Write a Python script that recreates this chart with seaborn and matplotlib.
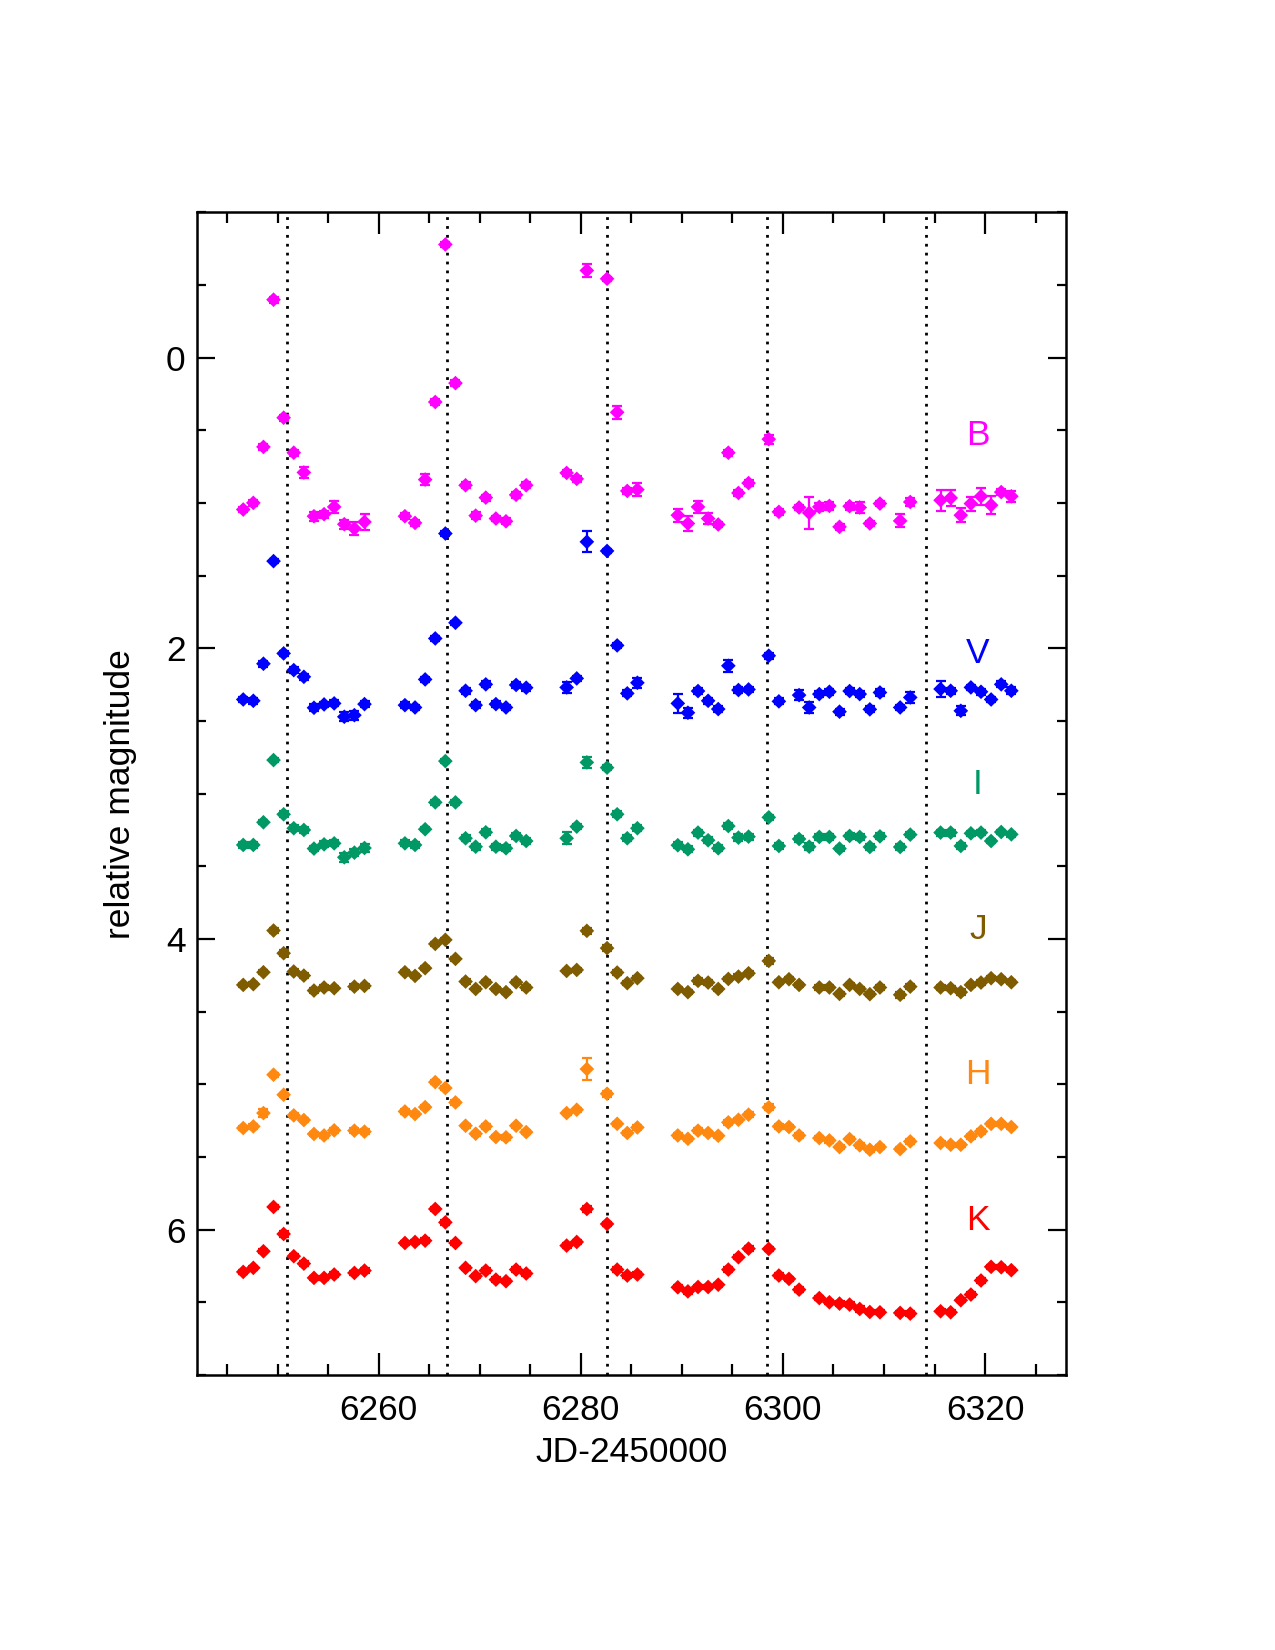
import numpy as np
import pandas as pd
import matplotlib
matplotlib.use("Agg")
import matplotlib.pyplot as plt
from matplotlib.ticker import MultipleLocator
import seaborn as sns

# ── DATA ───────────────────────────────────────────────────────
# epochs (JD-2450000) for the optical bands B, V, I
JD_OPT = [6246.6, 6247.6, 6248.6, 6249.6, 6250.6, 6251.6, 6252.6, 6253.6, 6254.6, 6255.6, 6256.6, 6257.6, 6258.6,
          6262.6, 6263.6, 6264.6, 6265.6, 6266.6, 6267.6, 6268.6, 6269.6, 6270.6, 6271.6, 6272.6, 6273.6, 6274.6,
          6278.6, 6279.6, 6280.6, 6282.6, 6283.6, 6284.6, 6285.6,
          6289.6, 6290.6, 6291.6, 6292.6, 6293.6, 6294.6, 6295.6, 6296.6,
          6298.6, 6299.6, 6301.6, 6302.6, 6303.6, 6304.6, 6305.6, 6306.6, 6307.6, 6308.6, 6309.6, 6311.6, 6312.6,
          6315.6, 6316.6, 6317.6, 6318.6, 6319.6, 6320.6, 6321.6, 6322.6]
# epochs for the near-infrared bands J, H, K
JD_NIR = [6246.6, 6247.6, 6248.6, 6249.6, 6250.6, 6251.6, 6252.6, 6253.6, 6254.6, 6255.6, 6257.6, 6258.6,
          6262.6, 6263.6, 6264.6, 6265.6, 6266.6, 6267.6, 6268.6, 6269.6, 6270.6, 6271.6, 6272.6, 6273.6, 6274.6,
          6278.6, 6279.6, 6280.6, 6282.6, 6283.6, 6284.6, 6285.6,
          6289.6, 6290.6, 6291.6, 6292.6, 6293.6, 6294.6, 6295.6, 6296.6,
          6298.6, 6299.6, 6300.6, 6301.6, 6303.6, 6304.6, 6305.6, 6306.6, 6307.6, 6308.6, 6309.6, 6311.6, 6312.6,
          6315.6, 6316.6, 6317.6, 6318.6, 6319.6, 6320.6, 6321.6, 6322.6]

B_MAG = [1.045, 0.999, 0.614, -0.399, 0.413, 0.654, 0.790, 1.091, 1.077, 1.027, 1.146, 1.176, 1.130,
         1.091, 1.137, 0.839, 0.305, -0.779, 0.175, 0.878, 1.087, 0.963, 1.107, 1.126, 0.944, 0.878,
         0.793, 0.834, -0.600, -0.543, 0.376, 0.917, 0.908,
         1.084, 1.141, 1.027, 1.107, 1.148, 0.654, 0.931, 0.863,
         0.561, 1.061, 1.031, 1.068, 1.027, 1.020, 1.164, 1.022, 1.031, 1.141, 1.004, 1.123, 0.993,
         0.981, 0.965, 1.084, 1.004, 0.954, 1.015, 0.925, 0.954]
B_ERR = [0.02, 0.02, 0.02, 0.02, 0.02, 0.02, 0.04, 0.03, 0.025, 0.04, 0.03, 0.045, 0.057,
         0.02, 0.02, 0.04, 0.02, 0.015, 0.02, 0.02, 0.025, 0.02, 0.02, 0.02, 0.02, 0.02,
         0.02, 0.02, 0.046, 0.015, 0.043, 0.02, 0.043,
         0.046, 0.05, 0.04, 0.037, 0.02, 0.02, 0.02, 0.02,
         0.03, 0.02, 0.02, 0.11, 0.025, 0.025, 0.02, 0.025, 0.035, 0.02, 0.02, 0.045, 0.025,
         0.073, 0.057, 0.05, 0.048, 0.057, 0.06, 0.02, 0.038]

V_MAG = [2.352, 2.361, 2.106, 1.400, 2.035, 2.150, 2.196, 2.409, 2.386, 2.379, 2.471, 2.460, 2.384,
         2.391, 2.407, 2.214, 1.932, 1.210, 1.824, 2.292, 2.391, 2.248, 2.384, 2.407, 2.252, 2.271,
         2.269, 2.207, 1.267, 1.330, 1.980, 2.310, 2.237,
         2.379, 2.443, 2.294, 2.361, 2.418, 2.120, 2.287, 2.283,
         2.051, 2.365, 2.322, 2.407, 2.315, 2.299, 2.436, 2.294, 2.315, 2.420, 2.304, 2.407, 2.338,
         2.280, 2.292, 2.430, 2.269, 2.299, 2.352, 2.248, 2.292]
V_ERR = [0.02, 0.02, 0.02, 0.015, 0.02, 0.02, 0.02, 0.025, 0.02, 0.02, 0.03, 0.03, 0.02,
         0.02, 0.02, 0.02, 0.02, 0.015, 0.015, 0.02, 0.02, 0.02, 0.02, 0.02, 0.02, 0.02,
         0.04, 0.02, 0.073, 0.015, 0.02, 0.02, 0.035,
         0.065, 0.035, 0.02, 0.02, 0.02, 0.04, 0.02, 0.02,
         0.02, 0.02, 0.035, 0.04, 0.02, 0.02, 0.02, 0.02, 0.02, 0.02, 0.025, 0.02, 0.035,
         0.055, 0.02, 0.03, 0.02, 0.02, 0.02, 0.02, 0.025]

I_MAG = [3.353, 3.353, 3.197, 2.769, 3.142, 3.238, 3.250, 3.378, 3.349, 3.342, 3.438, 3.406, 3.374,
         3.342, 3.353, 3.245, 3.060, 2.776, 3.060, 3.307, 3.365, 3.266, 3.365, 3.376, 3.291, 3.326,
         3.307, 3.227, 2.785, 2.821, 3.142, 3.307, 3.238,
         3.355, 3.383, 3.268, 3.321, 3.376, 3.223, 3.303, 3.296,
         3.163, 3.360, 3.312, 3.365, 3.298, 3.298, 3.378, 3.291, 3.298, 3.367, 3.294, 3.367, 3.282,
         3.268, 3.268, 3.360, 3.273, 3.268, 3.326, 3.264, 3.280]
I_ERR = [0.02, 0.02, 0.015, 0.015, 0.02, 0.02, 0.02, 0.02, 0.02, 0.02, 0.03, 0.025, 0.025,
         0.02, 0.02, 0.015, 0.015, 0.015, 0.015, 0.02, 0.02, 0.02, 0.02, 0.02, 0.02, 0.02,
         0.04, 0.015, 0.04, 0.015, 0.02, 0.02, 0.02,
         0.02, 0.02, 0.02, 0.02, 0.02, 0.02, 0.025, 0.02,
         0.015, 0.02, 0.02, 0.025, 0.02, 0.02, 0.015, 0.02, 0.02, 0.02, 0.02, 0.02, 0.015,
         0.02, 0.02, 0.02, 0.015, 0.015, 0.015, 0.015, 0.015]

J_MAG = [4.316, 4.311, 4.229, 3.942, 4.098, 4.224, 4.252, 4.355, 4.334, 4.339, 4.328, 4.323,
         4.229, 4.254, 4.201, 4.034, 4.006, 4.137, 4.293, 4.344, 4.298, 4.344, 4.366, 4.298, 4.334,
         4.220, 4.213, 3.944, 4.063, 4.231, 4.304, 4.270,
         4.344, 4.366, 4.288, 4.300, 4.344, 4.275, 4.259, 4.236,
         4.151, 4.298, 4.277, 4.316, 4.334, 4.334, 4.378, 4.316, 4.344, 4.380, 4.334, 4.384, 4.328,
         4.334, 4.339, 4.366, 4.316, 4.300, 4.270, 4.277, 4.298]
J_ERR = [0.015, 0.015, 0.015, 0.015, 0.02, 0.015, 0.015, 0.015, 0.015, 0.015, 0.015, 0.015,
         0.015, 0.015, 0.015, 0.015, 0.015, 0.015, 0.015, 0.015, 0.015, 0.015, 0.015, 0.015, 0.015,
         0.015, 0.015, 0.02, 0.02, 0.015, 0.015, 0.015,
         0.015, 0.015, 0.02, 0.015, 0.015, 0.015, 0.015, 0.015,
         0.02, 0.015, 0.015, 0.015, 0.015, 0.015, 0.015, 0.015, 0.015, 0.015, 0.015, 0.02, 0.015,
         0.015, 0.015, 0.02, 0.015, 0.015, 0.015, 0.015, 0.015]

H_MAG = [5.301, 5.290, 5.198, 4.934, 5.072, 5.214, 5.246, 5.342, 5.352, 5.317, 5.319, 5.326,
         5.187, 5.205, 5.157, 4.985, 5.026, 5.125, 5.285, 5.340, 5.290, 5.363, 5.365, 5.285, 5.329,
         5.198, 5.175, 4.895, 5.065, 5.272, 5.335, 5.297,
         5.352, 5.375, 5.319, 5.335, 5.354, 5.262, 5.244, 5.209,
         5.159, 5.290, 5.294, 5.352, 5.370, 5.386, 5.432, 5.377, 5.420, 5.450, 5.432, 5.446, 5.393,
         5.404, 5.416, 5.416, 5.358, 5.324, 5.272, 5.272, 5.294]
H_ERR = [0.015, 0.015, 0.03, 0.015, 0.015, 0.015, 0.015, 0.015, 0.015, 0.015, 0.015, 0.015,
         0.015, 0.015, 0.015, 0.015, 0.015, 0.015, 0.015, 0.015, 0.015, 0.015, 0.015, 0.015, 0.015,
         0.015, 0.015, 0.076, 0.02, 0.015, 0.015, 0.015,
         0.015, 0.015, 0.015, 0.015, 0.015, 0.015, 0.015, 0.015,
         0.02, 0.015, 0.015, 0.015, 0.015, 0.015, 0.015, 0.015, 0.015, 0.015, 0.015, 0.015, 0.015,
         0.015, 0.015, 0.015, 0.015, 0.015, 0.015, 0.015, 0.015]

K_MAG = [6.291, 6.263, 6.149, 5.844, 6.030, 6.183, 6.234, 6.332, 6.332, 6.309, 6.298, 6.282,
         6.092, 6.085, 6.076, 5.858, 5.950, 6.092, 6.263, 6.320, 6.282, 6.344, 6.355, 6.275, 6.302,
         6.110, 6.085, 5.858, 5.961, 6.275, 6.316, 6.309,
         6.397, 6.425, 6.395, 6.395, 6.379, 6.275, 6.190, 6.131,
         6.133, 6.316, 6.339, 6.413, 6.471, 6.500, 6.509, 6.516, 6.546, 6.567, 6.569, 6.573, 6.578,
         6.562, 6.569, 6.486, 6.447, 6.350, 6.256, 6.259, 6.279]
K_ERR = [0.015, 0.015, 0.015, 0.015, 0.02, 0.015, 0.015, 0.015, 0.015, 0.015, 0.015, 0.015,
         0.015, 0.015, 0.015, 0.015, 0.015, 0.015, 0.015, 0.015, 0.015, 0.015, 0.015, 0.015, 0.015,
         0.015, 0.015, 0.02, 0.015, 0.015, 0.015, 0.015,
         0.015, 0.015, 0.015, 0.015, 0.015, 0.015, 0.015, 0.015,
         0.015, 0.015, 0.015, 0.015, 0.015, 0.015, 0.015, 0.015, 0.02, 0.015, 0.015, 0.015, 0.015,
         0.015, 0.015, 0.015, 0.015, 0.015, 0.015, 0.015, 0.015]

BANDS = ["B", "V", "I", "J", "H", "K"]
COLORS = ["#FF00FF", "#0000FF", "#009966", "#805C00", "#FF8811", "#FF0000"]
LABEL_Y = [0.6, 2.1, 3.0, 4.0, 5.0, 6.0]
LABEL_X = 6319.3
PERIOD_LINES = [6250.9, 6266.8, 6282.6, 6298.4, 6314.2]

# ── TABLE ──────────────────────────────────────────────────────
series = {"B": (JD_OPT, B_MAG, B_ERR), "V": (JD_OPT, V_MAG, V_ERR), "I": (JD_OPT, I_MAG, I_ERR),
          "J": (JD_NIR, J_MAG, J_ERR), "H": (JD_NIR, H_MAG, H_ERR), "K": (JD_NIR, K_MAG, K_ERR)}
df = pd.concat([pd.DataFrame({"jd": jd, "mag": m, "err": e, "band": b})
                for b, (jd, m, e) in series.items()], ignore_index=True)
pal = dict(zip(BANDS, COLORS))

# ── STYLE ──────────────────────────────────────────────────────
sns.set_theme(style="ticks")
plt.rcParams.update({
    "font.family": ["Liberation Sans", "DejaVu Sans"],
    "font.size": 25.5,
    "axes.linewidth": 1.8,
    "axes.edgecolor": "black",
    "axes.labelcolor": "black",
    "text.color": "black",
    "xtick.color": "black", "ytick.color": "black",
    "xtick.labelcolor": "black", "ytick.labelcolor": "black",
})

fig = plt.figure(figsize=(12.75, 16.5), dpi=100)
ax = fig.add_axes([0.1543, 0.1667, 0.6817, 0.7046])

for x in PERIOD_LINES:
    ax.axvline(x, color="black", lw=2.0, ls=(0, (1, 2.2)), zorder=1)

for b in BANDS:
    d = df[df["band"] == b]
    ax.errorbar(d["jd"], d["mag"], yerr=d["err"], fmt="none", ecolor=pal[b],
                elinewidth=1.6, capsize=3.8, capthick=1.6, zorder=2)

sns.scatterplot(data=df, x="jd", y="mag", hue="band", palette=pal, marker="D",
                s=56, linewidth=0, legend=False, ax=ax, zorder=3)

for b, y in zip(BANDS, LABEL_Y):
    ax.text(LABEL_X, y, b, color=pal[b], fontsize=25.5, ha="center", va="baseline")

ax.set_xlim(6242, 6328)
ax.set_ylim(7, -1)
ax.xaxis.set_major_locator(MultipleLocator(20))
ax.xaxis.set_minor_locator(MultipleLocator(5))
ax.yaxis.set_major_locator(MultipleLocator(2))
ax.yaxis.set_minor_locator(MultipleLocator(0.5))
ax.tick_params(axis="both", which="both", direction="in", top=True, right=True,
               labelsize=25.5, width=1.6, labelcolor="black")
ax.tick_params(axis="x", which="major", length=16, pad=14)
ax.tick_params(axis="x", which="minor", length=8)
ax.tick_params(axis="y", which="major", length=13, pad=8)
ax.tick_params(axis="y", which="minor", length=6.5)

ax.set_xlabel("JD-2450000", fontsize=25.5, color="black")
ax.set_ylabel("relative magnitude", fontsize=25.5, color="black")
ax.xaxis.set_label_coords(0.5, -0.0525)
ax.yaxis.set_label_coords(-0.0687, 0.5)

fig.savefig("out.png", dpi=100, facecolor="white")
